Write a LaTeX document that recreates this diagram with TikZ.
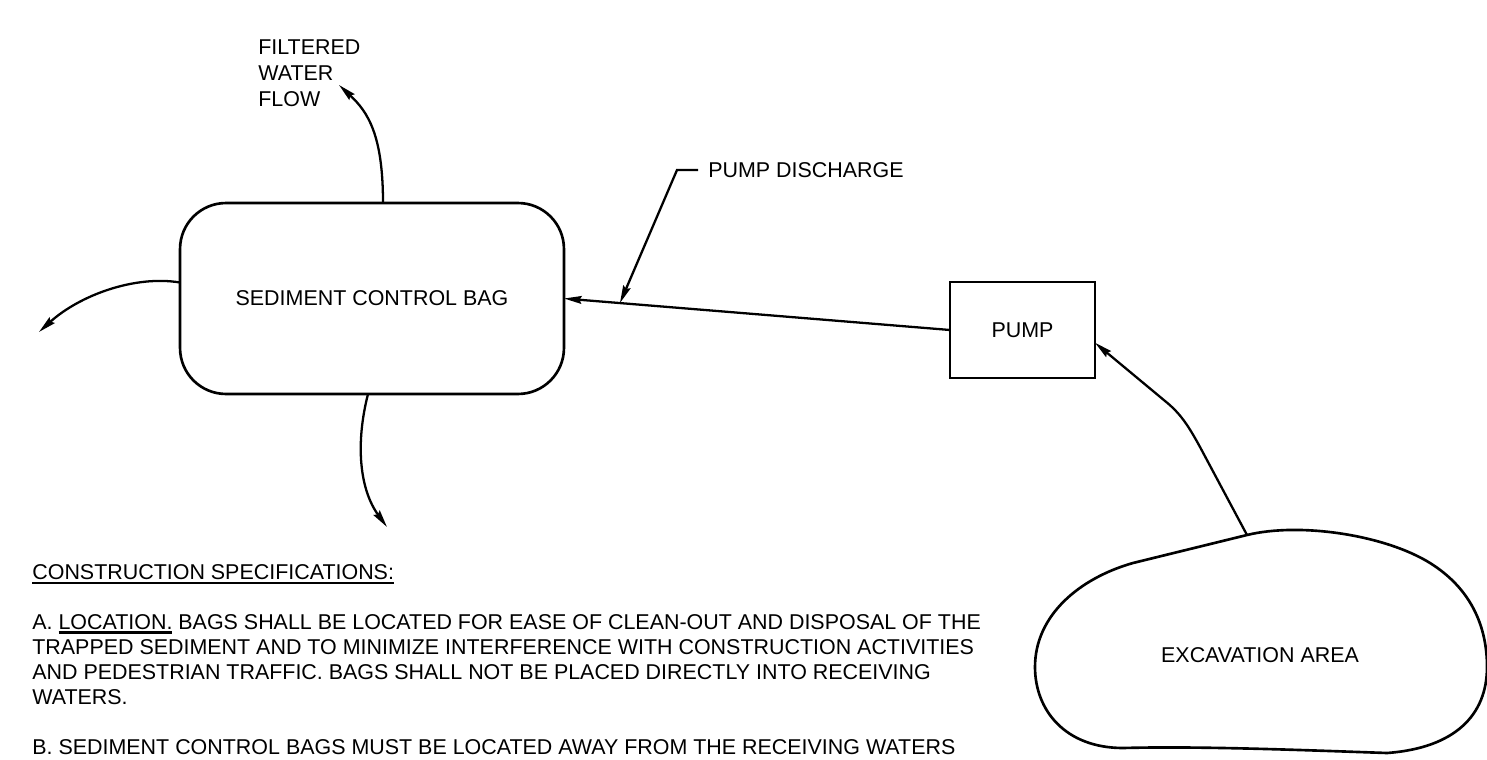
\documentclass[tikz,border=0pt]{standalone}
\usepackage{fontspec}
\setmainfont{Liberation Sans}
\usetikzlibrary{arrows.meta,calc,positioning}
\newcommand\ulin[1]{\setbox0\hbox{#1}\rlap{\rule[-2.2pt]{\wd0}{1.2pt}}\box0\relax}

\begin{document}
\begin{tikzpicture}[x=0.02cm, y=-0.02cm, every node/.style={font=\fontsize{12.2}{14.7}\selectfont}]
    \tikzset{BoxStyle/.style = {draw, line width=1.5pt, inner sep=0pt, outer sep=0pt},
      EdgeStyle/.style = {line width=1.3pt, -{Stealth[length=10pt,width=4.4pt,inset=1.2pt]}}}
    \useasboundingbox (0,0) rectangle (1487,760);
    \node[BoxStyle, rounded corners=0.92cm, minimum width=7.68cm, minimum height=3.82cm] (Bag) at (372,298.5) {SEDIMENT CONTROL BAG};
    \node[BoxStyle, minimum width=2.9cm, minimum height=1.92cm] (Pump) at (1022.5,330) {PUMP};
    \node (Exc) at (1260,655) {EXCAVATION AREA};
    \coordinate (ExcTop) at (1247,535);
    \draw[line width=1.5pt] (ExcTop) .. controls (1300,522) and (1385,535) .. (1430,563)
      .. controls (1470,588) and (1487,625) .. (1487,667)
      .. controls (1487,715) and (1455,748) .. (1387,753)
      .. controls (1300,750) and (1200,746) .. (1123,748)
      .. controls (1065,748) and (1035,710) .. (1035,667)
      .. controls (1035,615) and (1080,578) .. (1133,563) -- cycle;
    \node[anchor=west, align=left, inner sep=0pt] (Filt) at (258,73) {FILTERED\\WATER\\FLOW};
    \node[anchor=west, inner sep=0pt] (Disch) at (708,170) {PUMP DISCHARGE};
    \path (Pump.west) -- (Bag.east) coordinate[pos=0.855] (Hit);
    \draw[EdgeStyle] (Pump.west) -- (Bag.east);
    \draw[EdgeStyle] (Disch.west) ++(-10,0) -- ++(-21,0) -- (Hit);
    \draw[EdgeStyle] (ExcTop) -- (1200,447) .. controls (1188,425) and (1180,413) .. (1165,401) -- (Pump.-10);
    \draw[EdgeStyle] ($(Bag.north)+(11,0)$) .. controls (383,135) and (368,112) .. (339,85);
    \draw[EdgeStyle] ($(Bag.west)+(0,-16)$) .. controls (135,275) and (80,295) .. (39,332);
    \draw[EdgeStyle] ($(Bag.south)+(-4,0)$) .. controls (355,445) and (360,490) .. (387,527);
    \node[anchor=north west, align=left, inner sep=0pt, font=\fontsize{12.2}{14.2}\selectfont] (Spec) at (32,564.5)
      {\ulin{CONSTRUCTION SPECIFICATIONS:}\\[14.2pt]
       A. \ulin{LOCATION.} BAGS SHALL BE LOCATED FOR EASE OF CLEAN-OUT AND DISPOSAL OF THE\\
       TRAPPED SEDIMENT AND TO MINIMIZE INTERFERENCE WITH CONSTRUCTION ACTIVITIES\\
       AND PEDESTRIAN TRAFFIC. BAGS SHALL NOT BE PLACED DIRECTLY INTO RECEIVING\\
       WATERS.\\[14.2pt]
       B. SEDIMENT CONTROL BAGS MUST BE LOCATED AWAY FROM THE RECEIVING WATERS};
  \end{tikzpicture}
\end{document}
